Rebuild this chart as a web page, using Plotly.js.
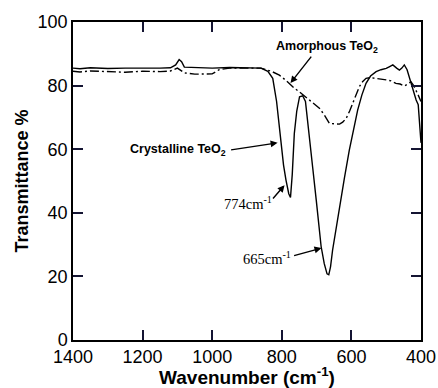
<!DOCTYPE html>
<html>
<head>
<meta charset="utf-8">
<script src="https://cdn.plot.ly/plotly-3.0.1.min.js"></script>
<style>html,body{margin:0;padding:0;background:#fff;}#chart{width:438px;height:388px;}</style>
</head>
<body>
<div id="chart"></div>
<script>
const crystWn = [1400,1380,1350,1300,1250,1200,1150,1120,1105,1095,1088,1080,1050,1000,950,900,860,840,826,815,808,802,795,788,780,775,770,764,757,749,740,732,721,711,701,694,687,678,670,665,660,654,645,634,620,606,594,582,570,558,545,529,515,500,490,481,470,462,455,448,440,429,421,414,408,402,400];
const crystT  = [85.5,85.3,85.6,85.4,85.5,85.4,85.5,85.6,86.5,88.2,87.5,85.8,85.6,85.5,85.7,85.6,85.5,84.5,82.3,75,68,61.8,55,50.3,46,44.8,52,65,72,76.5,76.8,75,65,54,44,36.5,29.4,24,20.8,20.5,23,28.3,34.5,42,51,59.7,66.5,72.3,77,80.7,83,84.4,85,85.4,86,86.5,85.5,84.9,85.5,86.5,85,80.7,78,75.5,74,65,62];
const amorWn = [1400,1380,1350,1300,1250,1200,1150,1120,1100,1080,1050,1000,980,950,900,860,830,807,790,778,764,749,735,721,706,692,678,670,663,650,634,625,615,605,596,586,577,568,558,545,529,515,500,486,472,460,448,438,429,421,414,408,402,400];
const amorT  = [84.5,84.3,84.6,84.4,84.2,84.5,84.4,84.6,85.5,84,83.6,83.7,85,85.5,85.6,85.5,84.5,83.3,81.8,80.5,79.2,78,76.8,75.5,74.2,72.9,70.8,69.2,68.1,68,67.9,68.5,69.7,72,74.4,77,79.7,81.2,82.3,82.5,82.3,82,81.8,81.5,80.7,80.5,79.9,80.5,81.2,80,78.6,77,75.5,75];
const xTickStep = 200;
const yTickStep = 20;

const traces = [
  {x: crystWn, y: crystT, mode: 'lines', line: {color: '#000', width: 1.4}, name: 'Crystalline TeO2'},
  {x: amorWn, y: amorT, mode: 'lines', line: {color: '#000', width: 1.4, dash: '9px,3px,2px,3px'}, name: 'Amorphous TeO2'}
];

const arrow = (hx, hy, tx, ty) => ({x: hx, y: hy, ax: tx, ay: ty, axref: 'x', ayref: 'y', xref: 'x', yref: 'y',
  text: '', showarrow: true, arrowhead: 2, arrowsize: 1, arrowwidth: 1.4, arrowcolor: '#000', standoff: 0, startstandoff: 0});

const tickFont = {size: 18, family: 'Liberation Sans, Arial, sans-serif'};

const layout = {
  width: 438, height: 388,
  margin: {l: 73, r: 17, t: 22, b: 48},
  paper_bgcolor: '#fff', plot_bgcolor: '#fff',
  showlegend: false,
  font: {family: 'Liberation Sans, Arial, sans-serif', color: '#000'},
  xaxis: {
    range: [1400, 400], tickmode: 'linear', tick0: 400, dtick: xTickStep,
    ticks: 'inside', ticklen: 10, tickwidth: 2, tickcolor: 'rgb(20,20,50)',
    showline: true, linecolor: '#000', linewidth: 1.5, mirror: 'ticks',
    showgrid: false, zeroline: false, tickfont: tickFont,
    title: {text: 'Wavenumber (cm<sup>-1</sup>)', font: {size: 19, weight: 'bold'}, standoff: 0}
  },
  yaxis: {
    range: [0, 100], tickmode: 'linear', tick0: 0, dtick: yTickStep,
    ticks: 'inside', ticklen: 10, tickwidth: 2, tickcolor: 'rgb(20,20,50)',
    showline: true, linecolor: '#000', linewidth: 1.5, mirror: 'ticks',
    showgrid: false, zeroline: false, tickfont: tickFont,
    title: {text: 'Transmittance %', font: {size: 18, weight: 'bold'}, standoff: 4}
  },
  annotations: [
    {x: 669, y: 92.1, xref: 'x', yref: 'y', text: '<b>Amorphous TeO<sub>2</sub></b>', showarrow: false, font: {size: 12.5}},
    arrow(775, 80.8, 712, 89.6),
    {x: 1097, y: 59.7, xref: 'x', yref: 'y', text: '<b>Crystalline TeO<sub>2</sub></b>', showarrow: false, font: {size: 12.5}},
    arrow(812, 62, 950, 59.7),
    {x: 898, y: 43, xref: 'x', yref: 'y', text: '774cm<sup>-1</sup>', showarrow: false, font: {size: 14.5, family: 'Liberation Serif, Times New Roman, serif'}},
    arrow(792, 48.7, 829, 44),
    {x: 843, y: 25.8, xref: 'x', yref: 'y', text: '665cm<sup>-1</sup>', showarrow: false, font: {size: 14.5, family: 'Liberation Serif, Times New Roman, serif'}},
    arrow(686, 28.9, 769, 26.4)
  ]
};

Plotly.newPlot('chart', traces, layout, {displayModeBar: false});
</script>
</body>
</html>
